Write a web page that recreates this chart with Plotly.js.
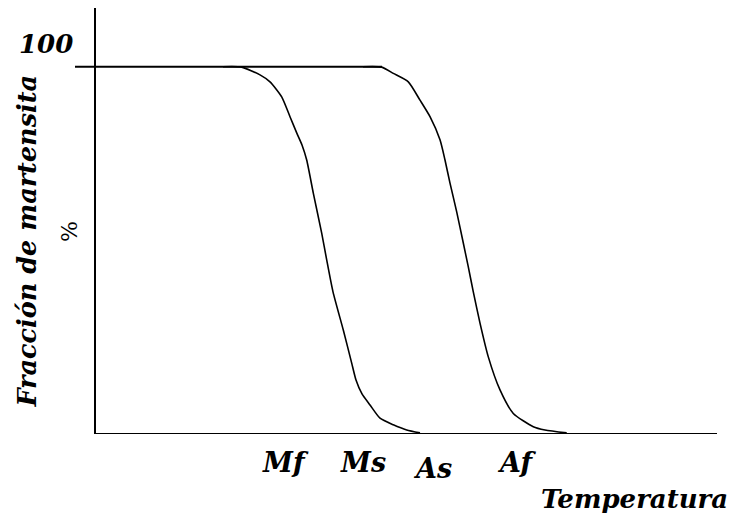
<!DOCTYPE html>
<html>
<head>
<meta charset="utf-8">
<script src="https://cdn.plot.ly/plotly-3.0.1.min.js"></script>
<style>html,body{margin:0;padding:0;background:#fff;}#chart{width:733px;height:515px;}</style>
</head>
<body>
<div id="chart"></div>
<script>
// Martensite fraction (%) vs temperature (arbitrary units)
var coolT = [128, 146.7, 165, 175, 186.7, 195, 201.7, 207, 211.7, 218.3, 226.7, 231.7, 238, 248.3, 256.7, 261, 267, 275, 285, 298.3, 311.7, 325];
var coolF = [100, 99.9, 97.8, 95.9, 91.8, 86.4, 82.0, 78.7, 74.6, 65.6, 54.7, 47.4, 38.7, 28.3, 19.3, 14.7, 10.9, 7.9, 4.3, 2.5, 1.1, 0.3];
var heatT = [268, 286.7, 298.3, 313.3, 325, 335, 345, 350, 355, 361.7, 368.3, 373.3, 378.3, 385, 393.3, 405, 418.3, 438.3, 450, 471.7];
var heatF = [100, 99.9, 98.2, 95.9, 90.9, 86.4, 80.1, 74.6, 68.3, 60.5, 52.0, 45.5, 38.7, 30.2, 21.0, 12.0, 5.6, 2.0, 1.1, 0.3];
var plateauT = [-20, 287];
var plateauF = [100, 100];
var axisYT = [0, 0];
var axisYF = [0, 116];
var axisXT = [0, 622];
var axisXF = [0, 0];
var tempLabels = ["Mf", "Ms", "As", "Af"];
var tempLabelT = [190, 267.5, 337.5, 421];

var traces = [
  {x: axisYT, y: axisYF, mode: 'lines', line: {color: '#000', width: 2}, hoverinfo: 'skip'},
  {x: axisXT, y: axisXF, mode: 'lines', line: {color: '#000', width: 2}, hoverinfo: 'skip'},
  {x: plateauT, y: plateauF, mode: 'lines', line: {color: '#000', width: 2}, hoverinfo: 'skip'},
  {x: coolT, y: coolF, mode: 'lines', line: {color: '#000', width: 1.6, shape: 'spline', smoothing: 0.6}, hoverinfo: 'skip'},
  {x: heatT, y: heatF, mode: 'lines', line: {color: '#000', width: 1.6, shape: 'spline', smoothing: 0.6}, hoverinfo: 'skip'}
];

var font = function(s){ return {family: 'DejaVu Serif', size: s, color: '#000', weight: 'bold', style: 'italic'}; };
var ann = [];
tempLabels.forEach(function(t, i){
  ann.push({x: tempLabelT[i], xref: 'x', y: (t === 'As' ? -0.080 : -0.068), yref: 'paper',
            text: '<b><i>' + t + '</i></b>', showarrow: false, xanchor: 'center', yanchor: 'middle', font: font(27)});
});
ann.push({x: 0.872, y: -0.152, xref: 'paper', yref: 'paper', text: '<b><i>Temperatura</i></b>', showarrow: false, xanchor: 'center', yanchor: 'middle', font: font(26)});
ann.push({x: -0.045, y: 0.9155, xref: 'paper', yref: 'paper', text: '<b><i>100</i></b>', showarrow: false, xanchor: 'center', yanchor: 'middle', font: font(26)});
ann.push({x: -0.0755, y: 0.453, xref: 'paper', yref: 'paper', text: '<b><i>Fracción de martensita</i></b>', textangle: -90, showarrow: false, xanchor: 'center', yanchor: 'middle', font: font(25.5)});
ann.push({x: -0.0093, y: 0.474, xref: 'paper', yref: 'paper', text: '%', textangle: -90, showarrow: false, xanchor: 'center', yanchor: 'middle', font: {family: 'DejaVu Serif', size: 22, color: '#000'}});

var layout = {
  width: 733, height: 515,
  margin: {l: 75, r: 16, t: 8, b: 81},
  paper_bgcolor: '#fff', plot_bgcolor: '#fff',
  showlegend: false,
  xaxis: {range: [-20, 622], visible: false, fixedrange: true},
  yaxis: {range: [0, 116], visible: false, fixedrange: true},
  annotations: ann
};
Plotly.newPlot('chart', traces, layout, {staticPlot: true, displayModeBar: false});
</script>
</body>
</html>
